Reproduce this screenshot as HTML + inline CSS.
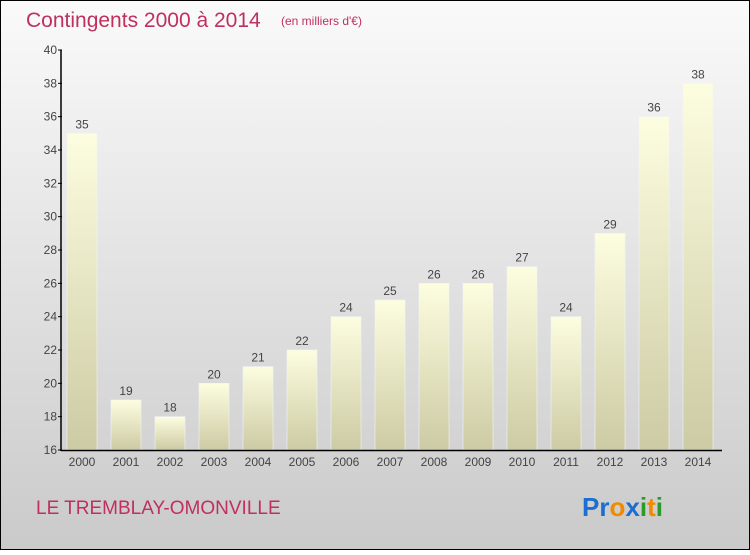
<!DOCTYPE html>
<html><head><meta charset="utf-8"><style>
body{margin:0;width:750px;height:550px;overflow:hidden;font-family:"Liberation Sans",sans-serif}
</style></head><body>
<svg width="750" height="550" xmlns="http://www.w3.org/2000/svg">
<defs>
<linearGradient id="bg" x1="0" y1="0" x2="0" y2="1"><stop offset="0" stop-color="#fafafa"/><stop offset="1" stop-color="#cacaca"/></linearGradient>
<linearGradient id="bar" x1="0" y1="0" x2="0" y2="1"><stop offset="0" stop-color="#fdfde0"/><stop offset="1" stop-color="#cdcba4"/></linearGradient>
</defs>
<rect x="0.5" y="0.5" width="749" height="549" fill="url(#bg)" stroke="#000"/>
<text x="26" y="27" font-size="21" fill="#c0305e">Contingents 2000 à 2014</text>
<text x="281" y="25" font-size="12" fill="#c0305e">(en milliers d'€)</text>
<g id="plot"></g>
<text x="36" y="514" font-size="19" fill="#c0305e">LE TREMBLAY-OMONVILLE</text>
<text x="582" y="516" font-size="26" font-weight="bold"><tspan fill="#1a6fd0">P</tspan><tspan fill="#1a6fd0">r</tspan><tspan fill="#f08a00">o</tspan><tspan fill="#1a6fd0">x</tspan><tspan fill="#2a9a2a">i</tspan><tspan fill="#f08a00">t</tspan><tspan fill="#2a9a2a">i</tspan></text>
</svg>
<script>
const categories=["2000","2001","2002","2003","2004","2005","2006","2007","2008","2009","2010","2011","2012","2013","2014"];
const values=[35,19,18,20,21,22,24,25,26,26,27,24,29,36,38];
const yTicks=[16,18,20,22,24,26,28,30,32,34,36,38,40];
const NS="http://www.w3.org/2000/svg";
const g=document.getElementById('plot');
const y0=450,y1=50,vmin=16,vmax=40;
function y(v){return y0-(v-vmin)/(vmax-vmin)*(y0-y1);}
function x(i){return 82+i*44;}
function mk(t,a,txt){const e=document.createElementNS(NS,t);for(const k in a)e.setAttribute(k,a[k]);if(txt!==undefined)e.textContent=txt;g.appendChild(e);return e;}
values.forEach((v,i)=>{
 const r=mk('rect',{x:x(i)-15,y:y(v),width:30,height:y0-y(v),fill:'url(#bar)',stroke:'#f4f4f4','stroke-width':0.6});
 
 
 const t=mk('text',{x:x(i),y:y(v)-5,'font-size':12,fill:'#444','text-anchor':'middle'},String(v));
 
 
 const c=mk('text',{x:x(i),y:466,'font-size':12,fill:'#444','text-anchor':'middle'},categories[i]);
 
 
});
yTicks.forEach(v=>{
 const l=mk('line',{x1:58,x2:62,y1:y(v),y2:y(v),stroke:'#000'});
 
 
 const t=mk('text',{x:57,y:y(v)+4,'font-size':12,fill:'#444','text-anchor':'end'},String(v));
 
 
});
const ya=mk('line',{x1:61,x2:61,y1:50,y2:451,stroke:'#000','stroke-width':1.5});


const xa=mk('line',{x1:61,x2:722,y1:450.5,y2:450.5,stroke:'#000','stroke-width':1.5});


</script>
</body></html>
